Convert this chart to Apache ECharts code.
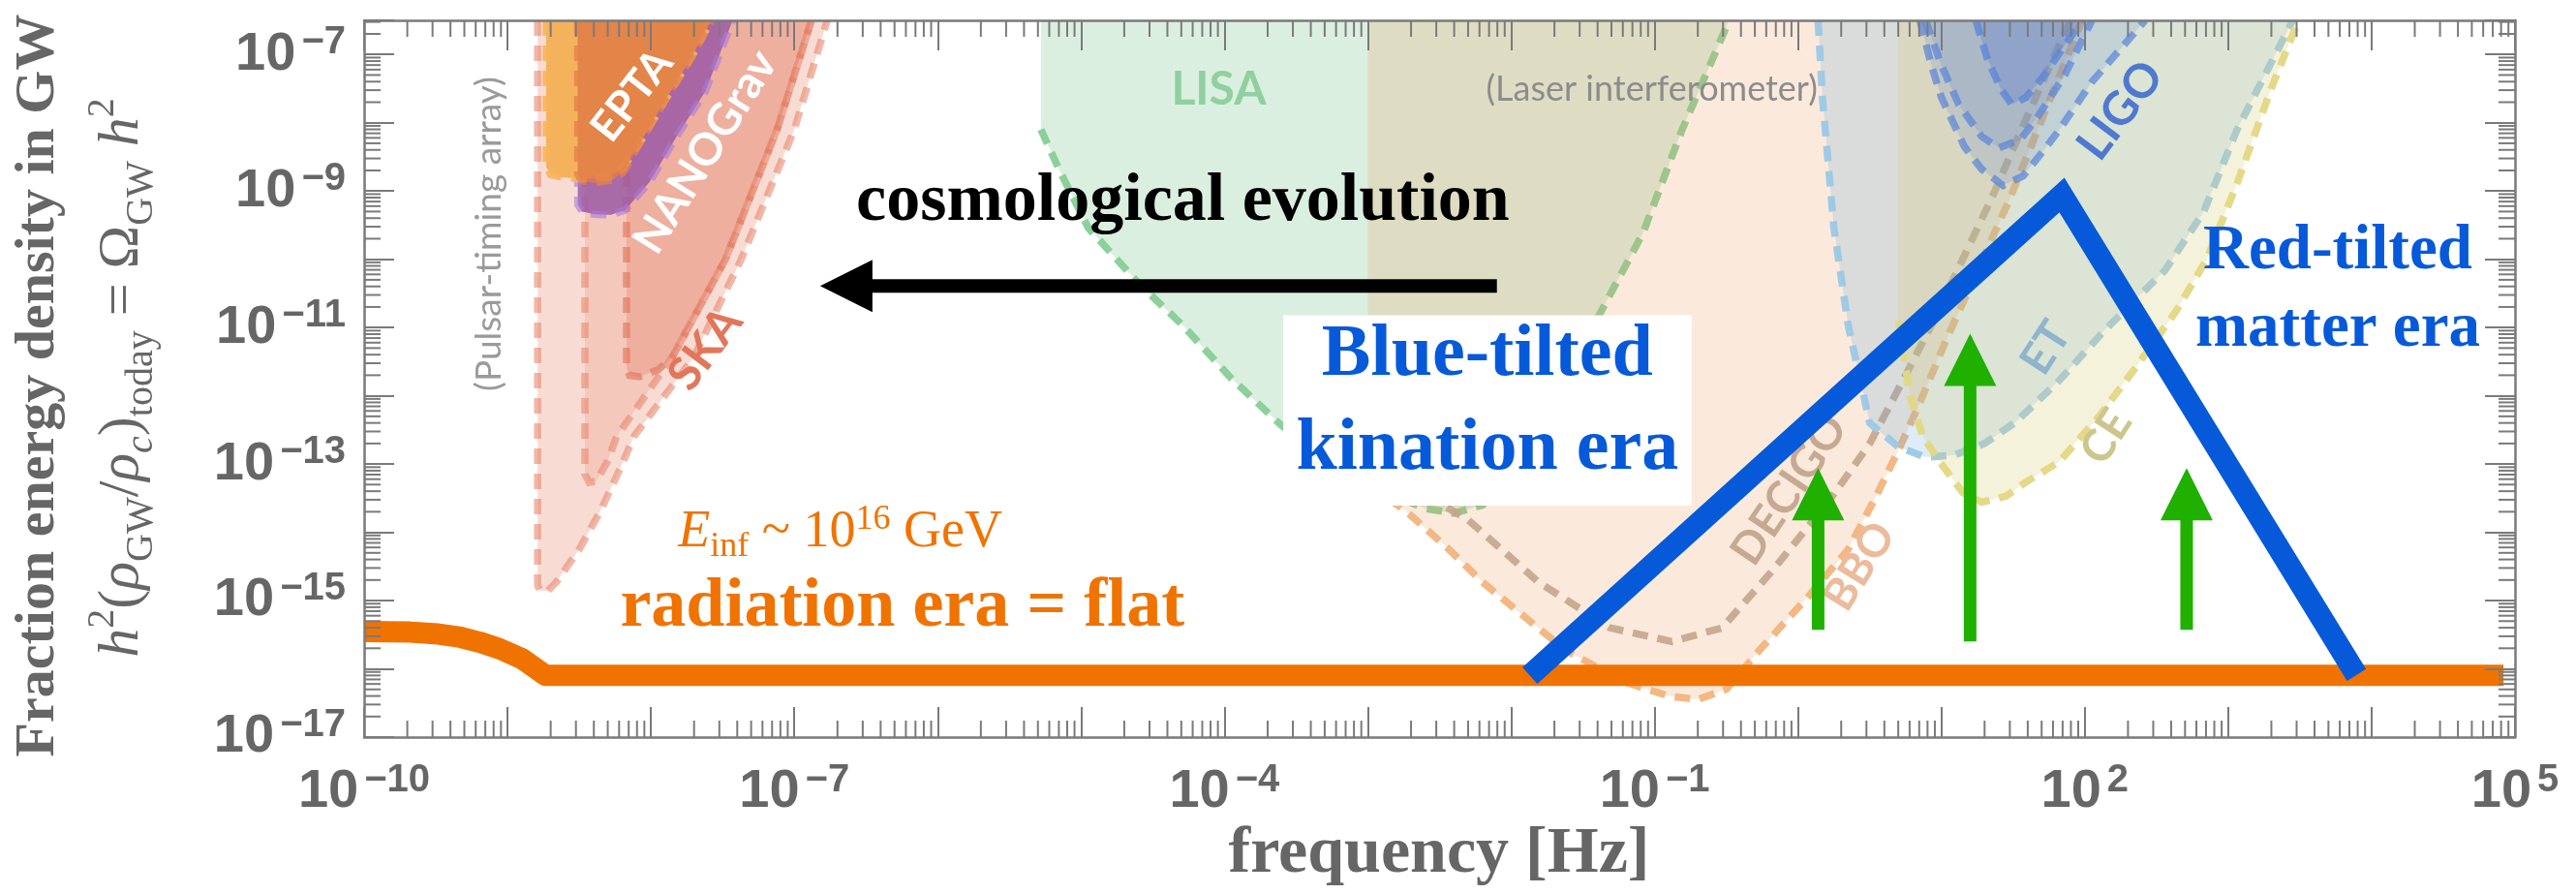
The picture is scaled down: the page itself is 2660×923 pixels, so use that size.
<!DOCTYPE html>
<html><head><meta charset="utf-8">
<script src="https://cdn.jsdelivr.net/npm/echarts@6/dist/echarts.min.js"></script>
<style>html,body{margin:0;padding:0;background:#fff}#c{width:2660px;height:923px}</style>
</head><body><div id="c"></div>
<script>
// ===== DATA (log10 frequency [Hz], log10 h^2 Omega_GW) =====
const xLabelTicks = [-10, -7, -4, -1, 2, 5];
const yLabelTicks = [-17, -15, -13, -11, -9, -7];

const radiationCurve = [[-10,-15.452],[-9.678,-15.462],[-9.484,-15.49],[-9.328,-15.538],[-9.193,-15.61],[-9.057,-15.705],[-8.902,-15.848],[-8.735,-16.095],[4.92,-16.095]];
const tiltedCurve = [[-1.87,-16.1],[1.84,-9.06],[3.895,-16.09]];
const greenArrows = [[0.14,-15.43,0.14,-13.06],[1.2,-15.6,1.2,-11.09],[2.71,-15.43,2.71,-13.06]];
const evolutionArrow = [[-2.1,-10.39,-6.82,-10.39]];
const kinationBox = [[-3.59,-10.82,-0.743,-13.61]];

// Pulsar timing arrays
const ptaOuter = [[-8.79,-6.5],[-8.79,-14.78],[-8.77,-14.86],[-8.72,-14.86],[-8.66,-14.73],[-8.5,-14.25],[-8.35,-13.68],[-8.2,-13.0],[-8.12,-12.6],[-7.7,-11.43],[-7.37,-10.0],[-7.0,-8.1],[-6.77,-6.5]];
const ptaMid = [[-8.46,-6.5],[-8.46,-13.15],[-8.43,-13.27],[-8.38,-13.25],[-8.3,-12.95],[-8.24,-12.6],[-7.85,-11.43],[-7.48,-10.0],[-7.12,-8.1],[-6.88,-6.5]];
const skaRegion = [[-8.17,-6.5],[-8.17,-11.6],[-8.15,-11.7],[-8.08,-11.72],[-7.95,-11.62],[-7.85,-11.43],[-7.48,-10.0],[-7.12,-8.1],[-6.88,-6.5]];
const nanogravRegion = [[-8.51,-6.5],[-8.51,-9.2],[-8.48,-9.3],[-8.4,-9.34],[-8.28,-9.35],[-8.18,-9.28],[-8.01,-8.87],[-7.82,-8.2],[-7.62,-7.54],[-7.43,-6.5]];
const eptaOuter = [[-8.73,-6.5],[-8.73,-8.65],[-8.7,-8.76],[-8.62,-8.8],[-8.5,-8.82],[-8.3,-8.8],[-8.2,-8.68],[-8.05,-8.2],[-7.89,-7.63],[-7.72,-7.05],[-7.58,-6.5]];
const eptaInner = [[-8.51,-6.5],[-8.51,-8.76],[-8.48,-8.85],[-8.4,-8.88],[-8.27,-8.84],[-8.19,-8.72],[-8.05,-8.2],[-7.89,-7.63],[-7.72,-7.05],[-7.58,-6.5]];
// Laser interferometers
const lisaRegion = [[-5.28,-6.5],[-5.28,-8.1],[-5.15,-8.7],[-4.95,-9.54],[-4.6,-10.35],[-4.29,-10.97],[-3.95,-11.75],[-3.6,-12.44],[-3.25,-12.95],[-2.9,-13.4],[-2.6,-13.65],[-2.4,-13.72],[-2.2,-13.6],[-1.95,-13.0],[-1.7,-12.0],[-1.38,-10.79],[-1.08,-9.61],[-0.81,-8.11],[-0.48,-6.5]];
const bboRegion = [[-3,-6.5],[-3,-13.3],[-2.74,-13.68],[-2.45,-14.22],[-2.2,-14.73],[-1.9,-15.25],[-1.62,-15.73],[-1.2,-16.2],[-0.9,-16.4],[-0.7,-16.45],[-0.5,-16.3],[-0.27,-15.73],[0.08,-14.92],[0.35,-14.25],[0.54,-13.49],[0.7,-12.8],[0.85,-12.1],[1.05,-11.1],[1.47,-9.15],[1.98,-6.5]];
const decigoCurve = [[-2.6,-13.45],[-2.3,-13.82],[-1.81,-14.73],[-1.31,-15.4],[-0.88,-15.6],[-0.53,-15.4],[-0.19,-14.59],[0.23,-13.5],[0.5,-12.7],[0.7,-11.9],[0.93,-10.97],[1.36,-9.06],[1.6,-7.9],[1.9,-6.5]];
const etRegion = [[0.14,-6.5],[0.17,-7.63],[0.25,-9.54],[0.35,-10.97],[0.5,-12.4],[0.7,-12.75],[0.89,-12.9],[1.09,-12.87],[1.3,-12.7],[1.51,-12.4],[1.82,-11.78],[2.13,-11.06],[2.56,-10.16],[2.83,-9.3],[3.06,-8.11],[3.29,-7.16],[3.45,-6.5]];
const ceRegion = [[0.7,-6.5],[0.7,-10.9],[0.78,-12.0],[0.87,-12.6],[1.0,-13.0],[1.15,-13.42],[1.28,-13.56],[1.45,-13.47],[1.6,-13.25],[1.82,-12.97],[2.1,-12.3],[2.35,-11.6],[2.64,-10.75],[2.85,-10.0],[3.06,-8.9],[3.3,-7.5],[3.49,-6.5]];
const ligoOuter = [[0.85,-6.5],[0.93,-7.16],[1.0,-7.63],[1.16,-8.35],[1.28,-8.68],[1.43,-8.92],[1.57,-8.78],[1.7,-8.44],[1.82,-8.11],[2.05,-7.4],[2.29,-6.82],[2.42,-6.5]];
const ligoMid = [[0.89,-6.5],[1.0,-7.16],[1.12,-7.73],[1.28,-8.2],[1.4,-8.37],[1.55,-8.25],[1.67,-7.92],[1.86,-7.3],[2.05,-6.5]];
const ligoInner = [[1.24,-6.5],[1.32,-7.06],[1.41,-7.49],[1.49,-7.73],[1.59,-7.63],[1.7,-7.35],[1.86,-6.87],[1.98,-6.5]];

// label anchors
const regionLabelAnchors = [[-8.13,-7.6],[-7.62,-8.43],[-7.62,-11.31],[-9.13,-9.63],[-4.04,-7.51],[-1.02,-7.51],[2.25,-7.82],[1.73,-11.3],[2.15,-12.6],[-0.06,-13.38],[0.43,-14.5]];
const regionLabelTexts = ['EPTA','NANOGrav','SKA','(Pulsar-timing array)','LISA','(Laser interferometer)','LIGO','ET','CE','DECIGO','BBO'];
const noteAnchors = [[-4.29,-9.17],[-2.167,-12.1],[3.764,-10.46],[-6.68,-14.01],[-6.246,-15.11]];

// ===== STYLES =====
const SERIF = '"Liberation Serif", "Times New Roman", serif';
const SANS = 'Lato, "Liberation Sans", sans-serif';
const TICKF = '"Liberation Sans Narrow", "Liberation Sans", Arial, sans-serif';
const GRAY = '#666666';
const AX = '#7a7a7a';
const ORANGE = '#f07300';
const BLUE = '#065ad9';
const GREEN = '#1fb000';

const regionLabelStyles = [
  {rot:52,size:44,color:'#ffffff'},
  {rot:58,size:46,color:'#ffffff'},
  {rot:53,size:48,color:'#e2765a'},
  {rot:90,size:37,color:'#9a9a9a',weight:'normal'},
  {rot:0,size:48,color:'#90d0a0'},
  {rot:0,size:36,color:'#8c8c8c',weight:'normal'},
  {rot:53,size:48,color:'#4f79d0'},
  {rot:57,size:46,color:'#8fb4cc'},
  {rot:57,size:46,color:'#cdc68c'},
  {rot:56,size:46,color:'#c6a993'},
  {rot:58,size:46,color:'#ebbb9b'}
];

const chart = echarts.init(document.getElementById('c'), null, {renderer:'canvas'});

function regionSeries(pts, fill, stroke, outlineStart, z) {
  return {
    type:'custom', coordinateSystem:'cartesian2d', xAxisIndex:0, yAxisIndex:0,
    z:z, silent:true, clip:true, data:pts, encode:{x:0,y:1},
    renderItem:function(params, api){
      if (params.dataIndex !== 0) return null;
      const P = pts.map(p => api.coord(p));
      const children = [];
      if (fill) children.push({type:'polygon', shape:{points:P}, style:{fill:fill, stroke:null}});
      if (stroke) {
        const O = P.slice(outlineStart);
        children.push({type:'polyline', shape:{points:O}, style:{fill:null, stroke:stroke, lineWidth:7.5, lineDash:[16,10], lineCap:'butt'}});
      }
      return {type:'group', children:children};
    }
  };
}

function arrowSeries(data, color, shaft, headLen, headW, z) {
  return {
    type:'custom', coordinateSystem:'cartesian2d', z:z, silent:true, data:data,
    encode:{x:[0,2], y:[1,3]},
    renderItem:function(params, api){
      const a = api.coord([api.value(0), api.value(1)]);
      const b = api.coord([api.value(2), api.value(3)]);
      const dx = b[0]-a[0], dy = b[1]-a[1], L = Math.sqrt(dx*dx+dy*dy);
      const ux = dx/L, uy = dy/L, px = -uy, py = ux;
      const bx = b[0]-ux*headLen, by = b[1]-uy*headLen;
      return {type:'group', children:[
        {type:'line', shape:{x1:a[0], y1:a[1], x2:bx+ux*2, y2:by+uy*2}, style:{stroke:color, lineWidth:shaft, lineCap:'butt'}},
        {type:'polygon', shape:{points:[[b[0],b[1]],[bx+px*headW/2, by+py*headW/2],[bx-px*headW/2, by-py*headW/2]]}, style:{fill:color}}
      ]};
    }
  };
}

const noteStyles = [
  {text:'cosmological evolution', fontSize:70, fontWeight:'bold', fontFamily:SERIF, fill:'#000000'},
  {text:'Blue-tilted\nkination era', fontSize:76, fontWeight:'bold', fontFamily:SERIF, fill:BLUE, lineHeight:97},
  {text:'Red-tilted\nmatter era', fontSize:65, fontWeight:'bold', fontFamily:SERIF, fill:BLUE, lineHeight:80},
  {text:'{i|E}{sb|inf}{n| ~ 10}{sp|16}{n| GeV}', rich:{
     i:{fontSize:54, fontStyle:'italic', fontFamily:SERIF, fill:ORANGE, lineHeight:64},
     n:{fontSize:54, fontFamily:SERIF, fill:ORANGE, lineHeight:64},
     sb:{fontSize:36, fontFamily:SERIF, fill:ORANGE, lineHeight:40, verticalAlign:'bottom'},
     sp:{fontSize:36, fontFamily:SERIF, fill:ORANGE, lineHeight:36, verticalAlign:'top'}}},
  {text:'radiation era = flat', fontSize:72, fontWeight:'bold', fontFamily:SERIF, fill:ORANGE}
];

// minor tick positions (axis decoration)
const xMinor = [], yMinor = [];
for (let d = -10; d < 5; d++) for (let k = 2; k <= 9; k++) xMinor.push(d + Math.log10(k));
for (let d = -17; d < -6; d++) for (let k = 2; k <= 9; k++) { const v = d + Math.log10(k); if (v <= -6.5) yMinor.push(v); }

const isInt = v => Math.abs(v - Math.round(v)) < 1e-6;
const expLabel = v => '{b|10}{s|' + String(Math.round(v)).replace('-', '\u2212') + '}';
const tickRich = {
  b:{fontSize:56, fontWeight:'bold', fontFamily:TICKF, color:GRAY, lineHeight:64},
  s:{fontSize:40, fontWeight:'bold', fontFamily:TICKF, color:GRAY, lineHeight:30, verticalAlign:'top', padding:[0,0,0,6]}
};
const axisBase = {
  type:'value', interval:1,
  axisLine:{show:true, onZero:false, lineStyle:{color:AX, width:2.5}},
  axisTick:{show:true, inside:true, length:31, lineStyle:{color:AX, width:2}},
  splitLine:{show:false}, z:20
};

const option = {
  animation:false,
  backgroundColor:'#ffffff',
  grid:{left:376, right:63, top:21, bottom:162, containLabel:false},
  xAxis:[
    Object.assign({}, axisBase, {position:'bottom', min:-10, max:5,
      axisLabel:{show:true, interval:0, margin:25, formatter:v => (isInt(v) && xLabelTicks.includes(Math.round(v))) ? expLabel(v) : '', rich:tickRich}}),
    Object.assign({}, axisBase, {position:'top', min:-10, max:5, axisLabel:{show:false}})
  ],
  yAxis:[
    Object.assign({}, axisBase, {position:'left', min:-17, max:-6.5,
      axisLabel:{show:true, interval:0, margin:19, formatter:v => (isInt(v) && yLabelTicks.includes(Math.round(v))) ? expLabel(v) : '', rich:tickRich}}),
    Object.assign({}, axisBase, {position:'right', min:-17, max:-6.5, axisLabel:{show:false}})
  ],
  graphic:[
    {type:'text', x:40, y:398, rotation:Math.PI/2, z:100, style:{text:'Fraction energy density in GW', fontSize:58, fontWeight:'bold', fontFamily:SERIF, fill:GRAY, align:'center', verticalAlign:'middle'}},
    {type:'text', x:126, y:390, rotation:Math.PI/2, z:100, style:{
      text:'{i|h}{sp|2}{n|(}{i|\u03c1}{sb|GW}{n|/}{i|\u03c1}{sbi|c}{n|)}{sb|today}{n| = \u03a9}{sb|GW}{i| h}{sp|2}',
      align:'center', verticalAlign:'middle',
      rich:{
        i:{fontSize:60, fontStyle:'italic', fontFamily:SERIF, fill:GRAY, lineHeight:80},
        n:{fontSize:60, fontFamily:SERIF, fill:GRAY, lineHeight:80},
        sb:{fontSize:40, fontFamily:SERIF, fill:GRAY, lineHeight:56, verticalAlign:'bottom'},
        sbi:{fontSize:40, fontStyle:'italic', fontFamily:SERIF, fill:GRAY, lineHeight:56, verticalAlign:'bottom'},
        sp:{fontSize:40, fontFamily:SERIF, fill:GRAY, lineHeight:44, verticalAlign:'top'}
      }}},
    {type:'text', x:1486, y:882, z:100, style:{text:'frequency [Hz]', fontSize:68, fontWeight:'bold', fontFamily:SERIF, fill:GRAY, align:'center', verticalAlign:'middle'}}
  ],
  series:[
    // PTA
    regionSeries(ptaOuter, 'rgba(232,140,112,0.30)', 'rgba(232,135,110,0.6)', 0, 1),
    regionSeries(ptaMid, 'rgba(232,140,112,0.25)', 'rgba(232,135,110,0.6)', 0, 1),
    regionSeries(skaRegion, 'rgba(225,120,95,0.30)', 'rgba(226,118,92,0.65)', 0, 1),
    regionSeries(nanogravRegion, 'rgba(155,90,165,0.85)', 'rgba(170,120,215,0.6)', 0, 1),
    regionSeries(eptaOuter, 'rgba(245,170,70,0.85)', 'rgba(247,180,90,0.9)', 0, 1),
    regionSeries(eptaInner, 'rgba(225,125,70,0.80)', 'rgba(228,130,75,0.75)', 0, 1),
    // interferometers
    regionSeries(lisaRegion, 'rgba(110,190,130,0.25)', 'rgba(135,205,150,0.95)', 1, 1),
    regionSeries(bboRegion, 'rgba(235,150,80,0.20)', 'rgba(242,180,125,0.95)', 1, 1),
    regionSeries(decigoCurve, null, 'rgba(195,165,140,0.9)', 0, 1),
    regionSeries(etRegion, 'rgba(100,170,220,0.22)', 'rgba(155,200,230,0.95)', 0, 1),
    regionSeries(ceRegion, 'rgba(215,205,110,0.25)', 'rgba(225,215,130,0.95)', 1, 1),
    regionSeries(ligoOuter, 'rgba(80,120,210,0.18)', 'rgba(95,135,215,0.75)', 0, 1),
    regionSeries(ligoMid, 'rgba(80,120,210,0.18)', 'rgba(95,135,215,0.75)', 0, 1),
    regionSeries(ligoInner, 'rgba(80,120,210,0.30)', 'rgba(95,135,215,0.8)', 0, 1),
    // region labels
    {type:'custom', coordinateSystem:'cartesian2d', z:2, silent:true, clip:true, data:regionLabelAnchors, encode:{x:0,y:1},
     renderItem:function(params, api){
       const p = api.coord([api.value(0), api.value(1)]);
       const s = regionLabelStyles[params.dataIndex];
       return {type:'text', x:p[0], y:p[1], rotation:s.rot*Math.PI/180,
         style:{text:regionLabelTexts[params.dataIndex], fill:s.color, fontSize:s.size, fontWeight:s.weight||'bold', fontFamily:SANS, align:'center', verticalAlign:'middle'}};
     }},
    // white box behind the kination label
    {type:'custom', coordinateSystem:'cartesian2d', z:3, silent:true, data:kinationBox, encode:{x:[0,2],y:[1,3]},
     renderItem:function(params, api){
       const a = api.coord([api.value(0), api.value(1)]);
       const b = api.coord([api.value(2), api.value(3)]);
       return {type:'rect', shape:{x:a[0], y:a[1], width:b[0]-a[0], height:b[1]-a[1]}, style:{fill:'#ffffff'}};
     }},
    {type:'line', name:'radiation', data:radiationCurve, showSymbol:false, symbol:'none', z:4, silent:true,
     lineStyle:{width:22, color:ORANGE, cap:'butt', join:'round'}},
    {type:'line', name:'tilted', data:tiltedCurve, showSymbol:false, symbol:'none', z:4, silent:true,
     lineStyle:{width:23, color:BLUE, cap:'butt', join:'miter', miterLimit:10}},
    arrowSeries(greenArrows, GREEN, 13, 54, 54, 5),
    arrowSeries(evolutionArrow, '#000000', 14, 54, 54, 5),
    // annotations
    {type:'custom', coordinateSystem:'cartesian2d', z:6, silent:true, data:noteAnchors, encode:{x:0,y:1},
     renderItem:function(params, api){
       const p = api.coord([api.value(0), api.value(1)]);
       const st = Object.assign({align:'center', verticalAlign:'middle'}, noteStyles[params.dataIndex]);
       return {type:'text', x:p[0], y:p[1], style:st};
     }},
    // minor ticks on the frame
    {type:'custom', coordinateSystem:'cartesian2d', z:21, silent:true, data:[[-10,-17]], encode:{x:0,y:1},
     renderItem:function(params, api){
       const cs = params.coordSys;
       const top = cs.y, bot = cs.y + cs.height, lft = cs.x, rgt = cs.x + cs.width;
       const ch = [];
       const st = {stroke:AX, lineWidth:2};
       xMinor.forEach(v => { const x = api.coord([v, -17])[0];
         ch.push({type:'line', shape:{x1:x, y1:bot, x2:x, y2:bot-17}, style:st});
         ch.push({type:'line', shape:{x1:x, y1:top, x2:x, y2:top+17}, style:st}); });
       yMinor.forEach(v => { const y = api.coord([-10, v])[1];
         ch.push({type:'line', shape:{x1:lft, y1:y, x2:lft+17, y2:y}, style:st});
         ch.push({type:'line', shape:{x1:rgt, y1:y, x2:rgt-17, y2:y}, style:st}); });
       return {type:'group', children:ch};
     }}
  ]
};
chart.setOption(option);
</script>
</body></html>
